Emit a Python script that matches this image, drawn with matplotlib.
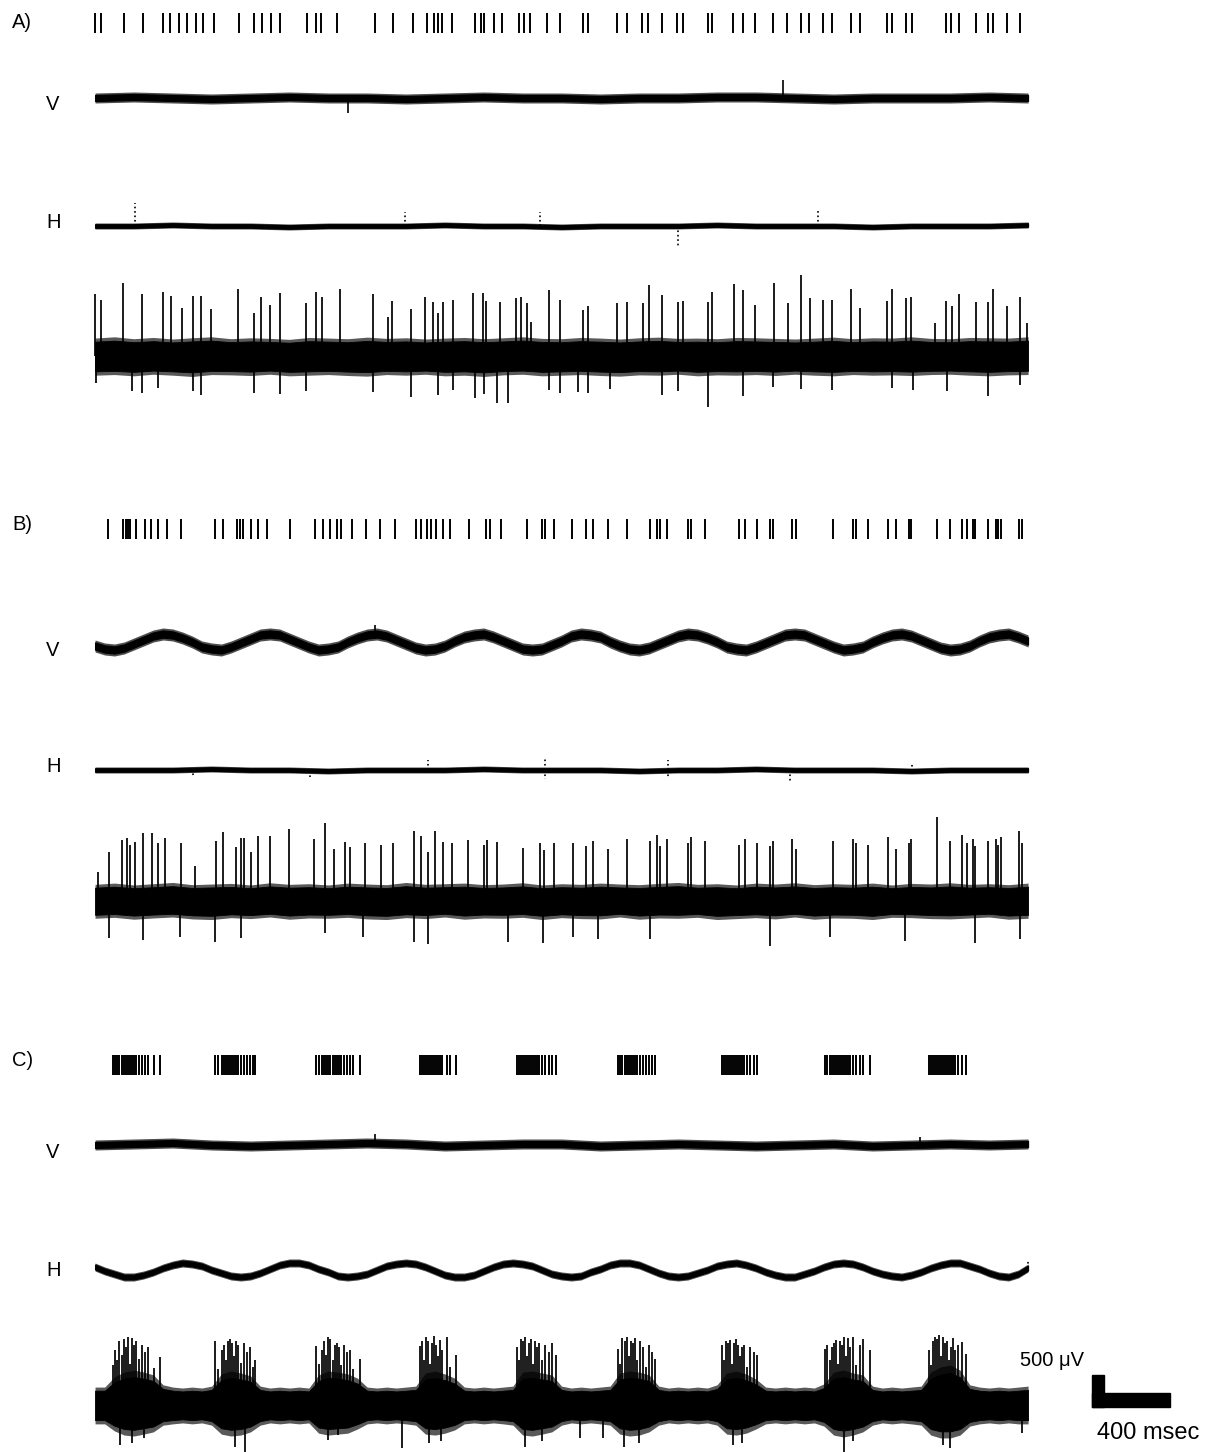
import numpy as np
import matplotlib.pyplot as plt

plt.rcParams['font.family'] = ['Liberation Sans', 'DejaVu Sans']

# recording window (s); 32 px on the page = 500 uV
T_END = 4.8
UV_PX = 500 / 32.0
SCALE_T = 0.4      # s
SCALE_UV = 500     # uV

# ---------------- spike rasters (s) ----------------
a_raster = [0.00, 0.033, 0.148, 0.246, 0.351, 0.388, 0.434, 0.475, 0.517, 0.554,
            0.610, 0.739, 0.818, 0.859, 0.905, 0.951, 1.090, 1.135, 1.163, 1.247,
            1.440, 1.533, 1.634, 1.708, 1.745, 1.763, 1.785, 1.834, 1.953, 1.985,
            2.003, 2.050, 2.092, 2.179, 2.207, 2.240, 2.327, 2.392, 2.512, 2.538,
            2.684, 2.735, 2.813, 2.847, 2.919, 2.996, 3.027, 3.152, 3.173, 3.281,
            3.335, 3.396, 3.490, 3.562, 3.632, 3.675, 3.744, 3.790, 3.889, 3.935,
            4.073, 4.099, 4.171, 4.202, 4.377, 4.402, 4.445, 4.531, 4.596, 4.621,
            4.690, 4.759]
b_raster = [0.065, 0.143, 0.158, 0.170, 0.181, 0.212, 0.259, 0.287, 0.324, 0.369,
            0.443, 0.619, 0.656, 0.730, 0.744, 0.759, 0.804, 0.840, 0.886, 1.003,
            1.132, 1.172, 1.210, 1.247, 1.265, 1.320, 1.394, 1.468, 1.542, 1.652,
            1.675, 1.708, 1.727, 1.754, 1.791, 1.828, 1.924, 2.013, 2.031, 2.086,
            2.221, 2.298, 2.315, 2.361, 2.456, 2.524, 2.564, 2.641, 2.739, 2.855,
            2.893, 2.907, 2.941, 3.052, 3.065, 3.138, 3.315, 3.344, 3.407, 3.473,
            3.490, 3.584, 3.606, 3.798, 3.901, 3.915, 3.978, 4.078, 4.121, 4.189,
            4.196, 4.330, 4.399, 4.459, 4.485, 4.519, 4.527, 4.596, 4.635, 4.647,
            4.660, 4.754, 4.771]
c_bursts = [
    [0.093, 0.103, 0.113, 0.123, 0.139, 0.149, 0.159, 0.170, 0.180, 0.190, 0.201, 0.211, 0.226, 0.242, 0.257, 0.273, 0.304, 0.334],
    [0.617, 0.633, 0.653, 0.664, 0.674, 0.684, 0.694, 0.705, 0.715, 0.725, 0.736, 0.751, 0.766, 0.782, 0.797, 0.813, 0.823],
    [1.137, 1.152, 1.168, 1.178, 1.189, 1.199, 1.209, 1.225, 1.235, 1.245, 1.255, 1.266, 1.281, 1.296, 1.312, 1.327, 1.363],
    [1.672, 1.682, 1.692, 1.703, 1.713, 1.723, 1.734, 1.744, 1.754, 1.764, 1.775, 1.785, 1.811, 1.826, 1.857],
    [2.171, 2.181, 2.191, 2.202, 2.212, 2.222, 2.233, 2.243, 2.253, 2.264, 2.274, 2.284, 2.300, 2.315, 2.336, 2.351, 2.372],
    [2.691, 2.701, 2.711, 2.727, 2.737, 2.748, 2.758, 2.768, 2.778, 2.789, 2.804, 2.820, 2.835, 2.850, 2.866, 2.881],
    [3.226, 3.236, 3.246, 3.257, 3.267, 3.277, 3.288, 3.298, 3.308, 3.319, 3.329, 3.339, 3.354, 3.370, 3.391, 3.406],
    [3.756, 3.766, 3.781, 3.792, 3.802, 3.812, 3.822, 3.833, 3.843, 3.853, 3.864, 3.874, 3.884, 3.899, 3.915, 3.936, 3.951, 3.987],
    [4.291, 4.301, 4.311, 4.322, 4.332, 4.342, 4.353, 4.363, 4.373, 4.383, 4.394, 4.404, 4.414, 4.424, 4.440, 4.461, 4.481],
]

# ---------------- unit recordings (uV) ----------------
# noise band edges (A, B: one value every 0.1 s; C: every 0.05 s)
a_env_hi = [280, 300, 270, 290, 265, 285, 300, 270, 285, 275, 260, 290, 280, 270,
            295, 275, 285, 265, 280, 290, 270, 285, 300, 275, 270, 290, 280, 265,
            285, 295, 275, 280, 270, 290, 285, 275, 265, 280, 295, 270, 285, 280,
            300, 275, 270, 290, 285, 280, 300]
a_env_lo = [300, 290, 310, 285, 300, 320, 290, 295, 305, 285, 310, 300, 290, 305,
            315, 290, 300, 285, 310, 300, 320, 295, 285, 310, 300, 290, 305, 315,
            295, 300, 285, 310, 295, 300, 290, 305, 285, 300, 310, 290, 300, 295,
            305, 290, 285, 300, 310, 295, 290]
b_env_hi = [260, 280, 250, 270, 290, 255, 265, 275, 250, 285, 260, 270, 250, 280,
            265, 255, 290, 260, 270, 280, 255, 265, 285, 250, 270, 260, 280, 265,
            255, 275, 290, 260, 270, 250, 280, 265, 285, 255, 270, 260, 280, 250,
            275, 265, 285, 260, 270, 255, 280]
b_env_lo = [270, 255, 285, 265, 250, 280, 290, 260, 275, 250, 285, 265, 270, 255,
            280, 290, 260, 275, 250, 285, 265, 270, 255, 290, 260, 275, 280, 250,
            285, 265, 270, 255, 290, 275, 260, 280, 250, 285, 265, 270, 290, 255,
            260, 275, 280, 265, 250, 285, 270]
c_env_hi = [280, 280, 440, 515, 545, 515, 470, 315, 280, 265,
            280, 265, 295, 485, 530, 500, 455, 295, 265, 280,
            265, 280, 265, 470, 530, 515, 485, 420, 280, 265,
            280, 265, 280, 295, 500, 530, 485, 420, 280, 265,
            280, 265, 280, 295, 515, 530, 500, 470, 295, 265,
            280, 265, 280, 295, 500, 530, 515, 470, 295, 265,
            280, 265, 280, 265, 315, 500, 530, 485, 405, 280,
            265, 280, 265, 280, 265, 330, 515, 545, 500, 470,
            295, 265, 280, 265, 280, 295, 515, 595, 625, 545,
            315, 280, 265, 280, 265, 280, 295]
c_env_lo = [295, 295, 405, 470, 485, 455, 420, 315, 295, 280,
            295, 280, 315, 455, 485, 470, 420, 315, 280, 295,
            280, 295, 280, 440, 470, 455, 440, 375, 295, 280,
            295, 280, 295, 315, 455, 470, 440, 390, 295, 280,
            295, 280, 295, 315, 470, 485, 455, 420, 315, 280,
            295, 280, 295, 315, 455, 485, 470, 420, 315, 280,
            295, 280, 295, 280, 315, 455, 470, 440, 375, 295,
            280, 295, 280, 295, 280, 330, 470, 500, 470, 420,
            315, 280, 295, 280, 295, 315, 470, 515, 515, 470,
            330, 295, 280, 295, 280, 295, 295]

a_up_t = [0.002, 0.031, 0.143, 0.242, 0.348, 0.389, 0.448, 0.506, 0.547, 0.598,
          0.736, 0.816, 0.854, 0.902, 0.952, 1.084, 1.135, 1.166, 1.259, 1.429,
          1.509, 1.526, 1.627, 1.698, 1.737, 1.766, 1.789, 1.843, 1.946, 1.995,
          2.010, 2.084, 2.164, 2.192, 2.224, 2.245, 2.336, 2.394, 2.512, 2.535,
          2.684, 2.739, 2.818, 2.852, 2.919, 2.998, 3.027, 3.152, 3.176, 3.286,
          3.332, 3.397, 3.492, 3.565, 3.634, 3.678, 3.747, 3.792, 3.889, 3.936,
          4.073, 4.100, 4.171, 4.198, 4.323, 4.378, 4.407, 4.447, 4.532, 4.593,
          4.621, 4.694, 4.760, 4.793]
a_up_uv = [970, 875, 1140, 970, 1000, 940, 750, 940, 940, 735,
           1045, 670, 920, 795, 985, 830, 1000, 920, 1045, 970,
           610, 860, 735, 920, 845, 670, 845, 875, 985, 985,
           860, 845, 905, 920, 830, 530, 1030, 875, 720, 780,
           830, 845, 830, 1110, 955, 845, 860, 845, 1000, 1125,
           1030, 795, 1140, 830, 1265, 905, 875, 875, 1045, 750,
           860, 1045, 905, 920, 515, 860, 780, 970, 845, 845,
           1045, 780, 920, 515]
a_dn_t = [0.003, 0.192, 0.242, 0.326, 0.506, 0.547, 0.816, 0.952, 1.084, 1.429,
          1.627, 1.766, 1.843, 1.955, 2.001, 2.067, 2.123, 2.336, 2.394, 2.486,
          2.535, 2.650, 2.919, 2.998, 3.155, 3.332, 3.490, 3.634, 3.792, 4.099,
          4.210, 4.382, 4.593, 4.760]
a_dn_uv = [420, 545, 580, 500, 545, 610, 580, 595, 545, 560,
           640, 610, 530, 655, 595, 735, 735, 530, 580, 560,
           580, 515, 610, 545, 795, 625, 485, 515, 530, 500,
           530, 545, 625, 455]

b_up_t = [0.017, 0.072, 0.137, 0.163, 0.180, 0.206, 0.248, 0.295, 0.323, 0.362,
          0.441, 0.514, 0.623, 0.660, 0.725, 0.750, 0.767, 0.801, 0.839, 0.900,
          0.998, 1.127, 1.183, 1.231, 1.286, 1.312, 1.389, 1.471, 1.535, 1.643,
          1.677, 1.712, 1.749, 1.792, 1.835, 1.921, 2.001, 2.018, 2.067, 2.203,
          2.289, 2.310, 2.363, 2.458, 2.524, 2.564, 2.641, 2.739, 2.855, 2.893,
          2.907, 2.941, 3.052, 3.065, 3.138, 3.315, 3.344, 3.407, 3.473, 3.490,
          3.584, 3.606, 3.798, 3.901, 3.915, 3.978, 4.078, 4.121, 4.189, 4.196,
          4.330, 4.399, 4.459, 4.485, 4.519, 4.527, 4.596, 4.635, 4.647, 4.660,
          4.754, 4.771]
b_up_uv = [455, 765, 955, 985, 875, 920, 1060, 1060, 905, 985,
           905, 545, 940, 1080, 845, 985, 985, 765, 1015, 1015,
           1125, 970, 1220, 810, 920, 845, 905, 875, 905, 1095,
           1015, 765, 1095, 920, 905, 955, 875, 955, 920, 830,
           905, 795, 905, 905, 860, 940, 810, 970, 940, 1030,
           860, 970, 905, 1000, 940, 875, 970, 905, 860, 940,
           970, 810, 940, 970, 905, 875, 1000, 810, 905, 970,
           1310, 940, 1030, 905, 970, 860, 940, 970, 875, 1000,
           1095, 905]
b_dn_t = [0.072, 0.248, 0.437, 0.617, 0.750, 1.183, 1.377, 1.643, 1.712, 2.126,
          2.306, 2.458, 2.588, 2.855, 3.473, 3.781, 4.167, 4.527, 4.759]
b_dn_uv = [580, 610, 560, 640, 580, 500, 560, 640, 670, 640,
           655, 560, 595, 595, 700, 560, 625, 655, 595]

# burst spikes of C share the raster times
c_burst_uv = [
    [620, 860, 700, 1000, 780, 1030, 905, 1060, 640, 1045, 940, 1000, 720, 940, 830, 905, 580, 750],
    [1000, 560, 860, 940, 700, 1000, 1030, 970, 760, 1000, 940, 650, 970, 830, 905, 600, 700],
    [920, 640, 860, 1000, 780, 1060, 1030, 700, 940, 970, 905, 620, 940, 830, 860, 560, 720],
    [920, 1000, 700, 1060, 1000, 640, 970, 1080, 940, 760, 1015, 860, 1060, 600, 780],
    [905, 700, 1030, 1000, 1060, 760, 970, 1030, 640, 1000, 905, 970, 700, 940, 830, 970, 780],
    [875, 640, 1045, 1000, 1060, 760, 1000, 970, 1045, 700, 1000, 905, 600, 940, 830, 720],
    [940, 700, 1000, 970, 1015, 640, 970, 1030, 940, 760, 905, 940, 600, 905, 830, 780],
    [875, 940, 700, 905, 970, 1015, 640, 1000, 940, 1060, 760, 1045, 905, 1060, 620, 940, 1030, 860],
    [860, 620, 1000, 1060, 1030, 1090, 760, 1060, 970, 1000, 700, 905, 1045, 860, 940, 980, 800],
]
c_dn_t = [0.13, 0.19, 0.25, 0.72, 0.77, 1.20, 1.25, 1.578, 1.72, 1.78, 2.212, 2.30,
          2.495, 2.612, 2.72, 2.80, 3.28, 3.33, 3.853, 3.90, 4.36, 4.40, 4.768]
c_dn_uv = [625, 595, 515, 655, 735, 545, 470, 670, 595, 560, 655, 560,
           515, 515, 655, 595, 625, 595, 735, 560, 625, 670, 440]

# ---------------- V / H position traces (a.u.) ----------------
a_v_mid = [0, 1, 0, -1, 0, 1, 0, 0, -1, 0, 1, 0, 0, -1, 0, 0, 1, 1, 0, -1, 0, 0, 0, 1, 0]
a_v_noise = 5
a_v_ev_t = [1.302, 3.540]
a_v_ev_d = [-15, 18]
a_h_mid = [0, 0, 1, 0, 0, -1, 0, 0, 0, 1, 0, 0, -1, 0, 0, 0, 1, 0, 0, 0, -1, 0, 0, 0, 1]
a_h_noise = 3
a_h_ev_t = [0.206, 1.595, 2.289, 2.999, 3.720]
a_h_ev_d = [23, 14, 14, -21, 15]

# one value every 0.05 s
b_v_mid = [-4, -7, -8, -6, -2, 2, 6, 8, 7, 4, 0, -5, -7, -8, -5, -1, 3, 7, 8, 7,
           3, -1, -5, -8, -7, -5, 0, 4, 7, 8, 6, 2, -2, -6, -8, -7, -4, 1, 5, 7,
           8, 5, 1, -3, -7, -8, -7, -3, 1, 6, 8, 7, 5, 0,
           -4, -7, -8, -6, -2, 2, 6, 8, 7, 4, 0, -5, -7, -8, -5, -1, 3, 7, 8, 7,
           3, -1, -5, -8, -7, -5, 0, 4, 7, 8, 6, 2, -2, -6, -8, -7, -4, 1, 5, 7,
           8, 5, 1]
b_v_noise = 6
b_v_ev_t = [1.44]
b_v_ev_d = [9]
b_h_mid = [0, 0, 0, 1, 0, 0, -1, 0, 0, 0, 1, 0, 0, 0, -1, 0, 0, 1, 0, 0, 0, -1, 0, 0, 0]
b_h_noise = 3
b_h_ev_t = [0.504, 1.106, 1.713, 2.315, 2.315, 2.948, 2.948, 3.576, 4.203]
b_h_ev_d = [-8, -6, 10, 12, -9, 10, -8, -11, 8]

c_v_mid = [0, 1, 2, 0, -1, 0, 1, 2, 1, -1, 0, 1, 1, -1, 0, 1, 0, -1, 0, 1, -1, 0, 1, 0, 1]
c_v_noise = 5
c_v_ev_t = [1.441, 4.244]
c_v_ev_d = [9, 8]
c_h_mid = [3, -1, -4, -7, -7, -5, -2, 2, 5, 7, 6, 4, 0, -3, -6, -7, -6, -3, 1, 5,
           7, 7, 5, 1, -2, -6, -7, -6, -4, 0, 4, 6, 7, 6, 3, -1, -5, -7, -7, -5,
           -1, 3, 6, 7, 6, 4, 0, -4, -6, -7, -6, -2, 1, 5, 7, 7, 5, 1, -3, -6,
           -7, -6, -3, 0, 4, 6, 7, 5, 2, -2, -5, -7, -7, -4, -1, 3, 6, 7, 6, 3,
           -1, -4, -6, -7, -5, -2, 2, 5, 7, 7, 4, 1, -3, -6, -7, -4, 2]
c_h_noise = 4
c_h_ev_t = [4.80]
c_h_ev_d = [8]


# ---------------- layout ----------------
W, H = 1220, 1452
fig = plt.figure(figsize=(W / 100, H / 100), dpi=100)
X0, X1 = 75.6, 1037.8
TLIM = (-0.1, 4.85)


def row(yc, h, ylim):
    ax = fig.add_axes([X0 / W, 1 - (yc + h / 2) / H, (X1 - X0) / W, h / H])
    ax.set_xlim(TLIM)
    ax.set_ylim(ylim)
    ax.axis('off')
    return ax


def raster(yc, times):
    ax = row(yc, 20, (0, 1))
    ax.vlines(times, 0, 1, color='k', lw=1.4)


def unit(yc, hi, lo, dt, up_t, up_v, dn_t, dn_v):
    ax = row(yc, 200, (-100 * UV_PX, 100 * UV_PX))
    te = np.arange(len(hi)) * dt
    hi = np.array(hi, float)
    lo = np.array(lo, float)
    # ragged outer edge of the noise, then the solid core
    ax.fill_between(te, -lo, hi, color='0.35', lw=0)
    ax.fill_between(te, -0.8 * lo, 0.8 * hi, color='k', lw=0.6)
    ax.vlines(up_t, 0, up_v, color='k', lw=1.25)
    ax.vlines(dn_t, 0, -np.array(dn_v), color='k', lw=1.25)
    return ax


def position(yc, mid, dt, noise, ev_t, ev_d, dotted=False):
    ax = row(yc, 60, (-30, 30))
    tm = np.arange(len(mid)) * dt
    mid = np.array(mid, float)
    ax.fill_between(tm, mid - noise, mid + noise, color='0.3', lw=0)
    ax.fill_between(tm, mid - 0.6 * noise, mid + 0.6 * noise, color='k', lw=0.8)
    base = np.interp(ev_t, tm, mid)
    ax.vlines(ev_t, base, base + np.array(ev_d), color='k', lw=1.2,
              linestyles=':' if dotted else '-')


# panel A
raster(23, a_raster)
position(98, a_v_mid, 0.2, a_v_noise, a_v_ev_t, a_v_ev_d)
position(226, a_h_mid, 0.2, a_h_noise, a_h_ev_t, a_h_ev_d, dotted=True)
unit(356, a_env_hi, a_env_lo, 0.1, a_up_t, a_up_uv, a_dn_t, a_dn_uv)

# panel B
raster(529, b_raster)
position(642, b_v_mid, 0.05, b_v_noise, b_v_ev_t, b_v_ev_d)
position(770, b_h_mid, 0.2, b_h_noise, b_h_ev_t, b_h_ev_d, dotted=True)
unit(901, b_env_hi, b_env_lo, 0.1, b_up_t, b_up_uv, b_dn_t, b_dn_uv)

# panel C
c_times = [t for b in c_bursts for t in b]
c_uv = [v for b in c_burst_uv for v in b]
raster(1065, c_times)
position(1145, c_v_mid, 0.2, c_v_noise, c_v_ev_t, c_v_ev_d)
position(1270, c_h_mid, 0.05, c_h_noise, c_h_ev_t, c_h_ev_d, dotted=True)
axc = unit(1405, c_env_hi, c_env_lo, 0.05, c_times, c_uv, c_dn_t, c_dn_uv)

# scale bar (400 ms x 500 uV), to the right of the last trace
t0 = 5.129
y0 = -2 * UV_PX
axc.fill([t0, t0 + SCALE_T, t0 + SCALE_T, t0], [y0, y0, y0 + 14 * UV_PX, y0 + 14 * UV_PX],
         color='k', clip_on=False)
axc.fill([t0, t0 + 12 / 194.375, t0 + 12 / 194.375, t0], [y0, y0, y0 + SCALE_UV, y0 + SCALE_UV],
         color='k', clip_on=False)


def label(x, y, s, size=14.5):
    fig.text(x / W, 1 - y / H, s, fontsize=size, ha='left', va='center')


label(12, 23, 'A)')
label(12, 525, 'B)')
label(12, 1061, 'C)')
for y, s in [(105, 'V'), (222, 'H'), (650, 'V'), (767, 'H'), (1153, 'V'), (1270, 'H')]:
    label(46, y, s)
label(1020, 1360, '500 μV')
label(1097, 1433, '400 msec', size=17)

fig.savefig('out.png', dpi=100)
